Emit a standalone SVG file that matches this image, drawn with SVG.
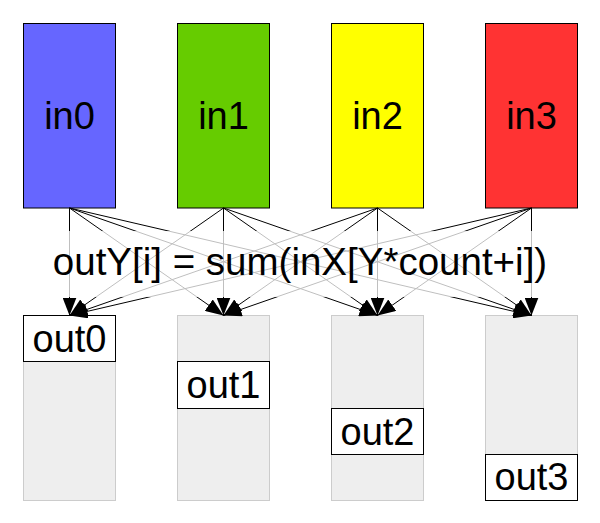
<svg xmlns="http://www.w3.org/2000/svg" width="600" height="523" viewBox="0 0 600 523">
<defs>
<marker id="arr" markerUnits="userSpaceOnUse" markerWidth="20" markerHeight="14" refX="18" refY="7" orient="auto">
<path d="M0,0 L18,7 L0,14 Z" fill="#000"/>
</marker>
<style>
.in{stroke:#000;stroke-width:1}
.out{fill:#eeeeee;stroke:#cccccc;stroke-width:1}
.lbl{fill:#fff;stroke:#000;stroke-width:1}
text{font-family:"Liberation Sans",Arial,sans-serif;fill:#000;text-anchor:middle}
.t{font-size:38px}
.c line{stroke:#000;stroke-width:1;marker-end:url(#arr)}
</style>
</defs>
<rect width="600" height="523" fill="#fff"/>
<g id="in0"><rect class="in" x="23.5" y="23.5" width="92" height="184.5" fill="#6666ff"/><text class="t" x="69.5" y="129">in0</text></g>
<g id="in1"><rect class="in" x="177.5" y="23.5" width="92" height="184.5" fill="#66cc00"/><text class="t" x="223.5" y="129">in1</text></g>
<g id="in2"><rect class="in" x="331.5" y="23.5" width="92" height="184.5" fill="#ffff00"/><text class="t" x="377.5" y="129">in2</text></g>
<g id="in3"><rect class="in" x="485.5" y="23.5" width="92" height="184.5" fill="#ff3333"/><text class="t" x="531.5" y="129">in3</text></g>
<g id="out0"><rect class="out" x="23.5" y="315.5" width="92" height="185"/><rect class="lbl" x="23.5" y="315.5" width="92" height="46"/><text class="t" x="69.5" y="352">out0</text></g>
<g id="out1"><rect class="out" x="177.5" y="315.5" width="92" height="185"/><rect class="lbl" x="177.5" y="361.5" width="92" height="47"/><text class="t" x="223.5" y="398">out1</text></g>
<g id="out2"><rect class="out" x="331.5" y="315.5" width="92" height="185"/><rect class="lbl" x="331.5" y="408.5" width="92" height="46"/><text class="t" x="377.5" y="444.5">out2</text></g>
<g id="out3"><rect class="out" x="485.5" y="315.5" width="92" height="185"/><rect class="lbl" x="485.5" y="454.5" width="92" height="46"/><text class="t" x="531.5" y="490">out3</text></g>
<g id="connectors" class="c">
<line x1="69.5" y1="208" x2="69.5" y2="315.5"/>
<line x1="69.5" y1="208" x2="223.5" y2="315.5"/>
<line x1="69.5" y1="208" x2="377.5" y2="315.5"/>
<line x1="69.5" y1="208" x2="531.5" y2="315.5"/>
<line x1="223.5" y1="208" x2="69.5" y2="315.5"/>
<line x1="223.5" y1="208" x2="223.5" y2="315.5"/>
<line x1="223.5" y1="208" x2="377.5" y2="315.5"/>
<line x1="223.5" y1="208" x2="531.5" y2="315.5"/>
<line x1="377.5" y1="208" x2="69.5" y2="315.5"/>
<line x1="377.5" y1="208" x2="223.5" y2="315.5"/>
<line x1="377.5" y1="208" x2="377.5" y2="315.5"/>
<line x1="377.5" y1="208" x2="531.5" y2="315.5"/>
<line x1="531.5" y1="208" x2="69.5" y2="315.5"/>
<line x1="531.5" y1="208" x2="223.5" y2="315.5"/>
<line x1="531.5" y1="208" x2="377.5" y2="315.5"/>
<line x1="531.5" y1="208" x2="531.5" y2="315.5"/>
</g>
<g id="formula">
<rect x="45" y="231" width="510" height="66" fill="#fff" fill-opacity="0.75"/>
<text x="300" y="275" font-size="38.5">outY[i] = sum(inX[Y*count+i])</text>
</g>
</svg>
